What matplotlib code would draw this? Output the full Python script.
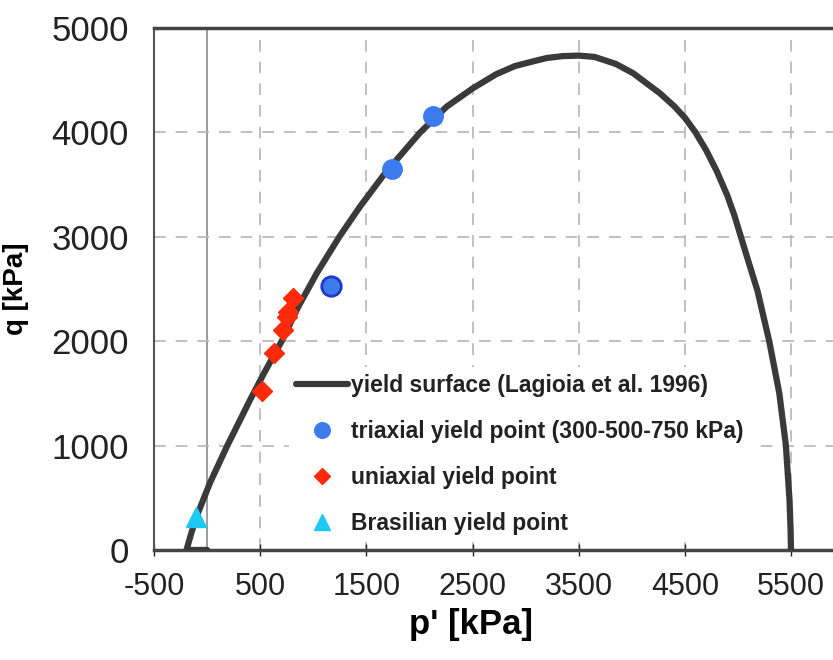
import numpy as np
import matplotlib.pyplot as plt

plt.rc("font", family=["Liberation Sans", "DejaVu Sans"])
plt.rc("axes", unicode_minus=False)

# yield surface (Lagioia et al. 1996)
surf_p = [0, -195, -150, -100, 25, 185, 404, 535, 702, 859, 1032, 1245, 1440,
          1675, 2005, 2256, 2500, 2720, 2900, 3072, 3200, 3350, 3500, 3650,
          3850, 4013, 4265, 4400, 4500, 4600, 4700, 4800, 4900, 4965, 5025,
          5100, 5185, 5295, 5390, 5452, 5486, 5496, 5500]
surf_q = [0, 0, 160, 320, 640, 990, 1437, 1692, 2000, 2331, 2650, 3000, 3289,
          3608, 3997, 4246, 4420, 4555, 4635, 4680, 4712, 4730, 4735, 4722,
          4655, 4566, 4374, 4250, 4140, 4000, 3830, 3630, 3395, 3210, 3010,
          2760, 2480, 2000, 1501, 1000, 479, 200, 0]

triax_p = [2130, 1740, 1162]
triax_q = [4157, 3646, 2530]

uniax_p = [514, 633, 712, 750, 765, 812]
uniax_q = [1526, 1884, 2107, 2235, 2283, 2411]

bras_p = [-105]
bras_q = [320]

xticks = np.arange(-500, 6000, 1000)
yticks = np.arange(0, 6000, 1000)

fig = plt.figure(figsize=(8.33, 6.6), dpi=100)
ax = fig.add_axes([0.185, 0.1667, 0.892, 0.791])

ax.plot(surf_p, surf_q, color="#3a3a3a", lw=4.5, solid_joinstyle="round",
        solid_capstyle="round",
        label="yield surface (Lagioia et al. 1996)", zorder=3)
ax.plot(triax_p[:2], triax_q[:2], "o", color="#3b7bed", ms=14, mec="#3b7bed",
        ls="none", label="triaxial yield point (300-500-750 kPa)", zorder=4)
ax.plot(triax_p[2:], triax_q[2:], "o", color="#3b7bed", ms=14, mec="#2038c8",
        mew=2, ls="none", zorder=4)
ax.plot(uniax_p, uniax_q, "D", color="#ff2a0a", ms=10, ls="none",
        label="uniaxial yield point", zorder=4)
ax.plot(bras_p, bras_q, "^", color="#1ec8f0", ms=15, ls="none",
        label="Brasilian yield point", zorder=4)

ax.axvline(0, color="#8a8a8a", lw=1.2, zorder=1)
ax.set_xlim(-500, 6500)
ax.set_ylim(0, 5000)
ax.set_xticks(xticks)
ax.set_yticks(yticks)
ax.grid(True, color="#b5b5b5", ls=(0, (7, 6)), lw=1.2, zorder=0)
ax.tick_params(axis="x", labelsize=22, colors="#222222", direction="inout",
               length=8, width=1, pad=12)
ax.tick_params(axis="y", labelsize=25, colors="#222222", length=0, pad=18)

ax.spines["left"].set_color("#555555")
ax.spines["left"].set_linewidth(1.5)
for s in ["top", "bottom"]:
    ax.spines[s].set_color("#444444")
    ax.spines[s].set_linewidth(2.5)
ax.spines["right"].set_visible(False)

ax.set_xlabel("p' [kPa]", fontsize=25, fontweight="bold")
ax.xaxis.set_label_coords(0.427, -0.112)
ax.set_ylabel("q [kPa]", fontsize=20, fontweight="bold", labelpad=16)

leg = ax.legend(loc="upper left", bbox_to_anchor=(0.166, 0.3715), frameon=True,
                fancybox=False, edgecolor="none", facecolor="white",
                framealpha=1, handlelength=2.27, handletextpad=0.15,
                labelspacing=1.0, markerscale=0.8, borderpad=0.3,
                prop={"size": 16.5, "weight": "bold"})
for t in leg.get_texts():
    t.set_color("#222222")

fig.savefig("out.png", dpi=100)
